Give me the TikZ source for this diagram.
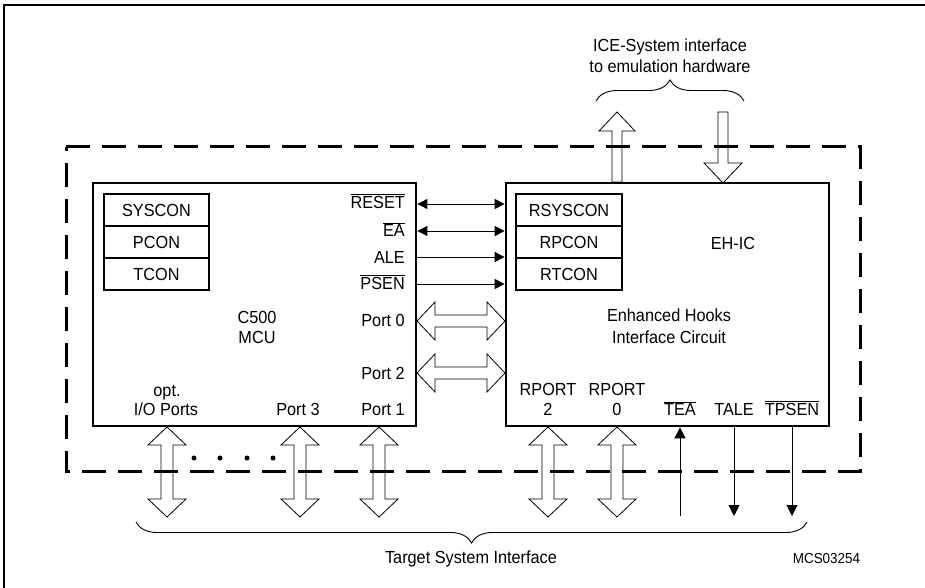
\documentclass[tikz,border=0pt]{standalone}
\usepackage{fontspec}
\setmainfont[FakeStretch=0.93]{Liberation Sans}
\usetikzlibrary{arrows.meta,decorations.pathreplacing}
\newcommand\ovl[1]{$\overline{\mbox{#1}}$}
\newcommand\dblV[3]{% x, ytop, ybot
  \draw[hollow] (#1,#2) -- ({#1+19},{#2+18}) -- ({#1+6},{#2+18}) -- ({#1+6},{#3-18}) -- ({#1+19},{#3-18}) -- (#1,#3)
    -- ({#1-19},{#3-18}) -- ({#1-6},{#3-18}) -- ({#1-6},{#2+18}) -- ({#1-19},{#2+18}) -- cycle;}
\newcommand\dblH[3]{% y, xleft, xright
  \draw[hollow] (#2,#1) -- ({#2+18},{#1-19}) -- ({#2+18},{#1-6}) -- ({#3-18},{#1-6}) -- ({#3-18},{#1-19}) -- (#3,#1)
    -- ({#3-18},{#1+19}) -- ({#3-18},{#1+6}) -- ({#2+18},{#1+6}) -- ({#2+18},{#1+19}) -- cycle;}
\begin{document}
\begin{tikzpicture}[x=1pt,y=-1pt,
  txt/.style={inner sep=0pt,font=\fontsize{17.5}{20}\selectfont,text height=12.5pt,text depth=0pt},
  small/.style={inner sep=0pt,font=\fontsize{14.5}{17}\selectfont,text height=10.4pt,text depth=0pt},
  chip/.style={draw,line width=2.8pt,inner sep=0pt},
  reg/.style={draw,line width=2.2pt,inner sep=0pt,minimum width=105pt,minimum height=32pt,
              font=\fontsize{17.5}{20}\selectfont,text height=12.5pt,text depth=0pt},
  hollow/.style={draw,line width=0.8pt},
  sig/.style={line width=0.9pt},
  tip/.style={Triangle[length=10pt,width=10pt]},
  dashbox/.style={line width=3pt,dash pattern=on 24pt off 12pt},
  frame/.style={line width=1.4pt},
  brc/.style={line width=0.9pt,decorate,decoration={brace,amplitude=21pt}}]
\useasboundingbox (0,0) rectangle (925,588);
\draw[frame] (4,588) -- (4,5) -- (925,5);

% chips
\node[chip,minimum width=323pt,minimum height=243pt] (mcu) at (254.5,304.5) {};
\node[chip,minimum width=323pt,minimum height=243pt] (ehic) at (667.5,304.5) {};

% registers
\node[reg] (syscon) at (156.5,210) {SYSCON};
\node[reg] (pcon) at (156.5,242) {PCON};
\node[reg] (tcon) at (156.5,274) {TCON};
\node[reg,minimum width=106pt] (rsyscon) at (569,210) {RSYSCON};
\node[reg,minimum width=106pt] (rpcon) at (569,242) {RPCON};
\node[reg,minimum width=106pt] (rtcon) at (569,274) {RTCON};

% MCU labels
\node[txt,anchor=east] (lreset) at (405,202) {\ovl{RESET}};
\node[txt,anchor=east] (lea) at (405,230) {\ovl{EA}};
\node[txt,anchor=east] (lale) at (405,257) {ALE};
\node[txt,anchor=east] (lpsen) at (405,283) {\ovl{PSEN}};
\node[txt,anchor=east] (lp0) at (405,320) {Port 0};
\node[txt,anchor=east] (lp2) at (405,373) {Port 2};
\node[txt,anchor=east] (lp1) at (405,409) {Port 1};
\node[txt] (lp3) at (298,409) {Port 3};
\node[txt] (lopt) at (167,390) {opt.};
\node[txt] (lio) at (166,409) {I/O Ports};
\node[txt] (lc500) at (257,317) {C500};
\node[txt] (lmcu) at (257,337) {MCU};

% EH-IC labels
\node[txt] (lehic) at (733,243) {EH-IC};
\node[txt] (lenh) at (669,315) {Enhanced Hooks};
\node[txt] (lifc) at (669,337) {Interface Circuit};
\node[txt] (lrp2a) at (548,389) {RPORT};
\node[txt] (lrp2b) at (548,409) {2};
\node[txt] (lrp0a) at (617,389) {RPORT};
\node[txt] (lrp0b) at (617,409) {0};
\node[txt] (ltea) at (680,409) {\ovl{TEA}};
\node[txt] (ltale) at (734,409) {TALE};
\node[txt] (ltpsen) at (792,409) {\ovl{TPSEN}};

% signal rows
\foreach \n/\y in {r1/204,r2/231,r3/257,r4/284}{\coordinate (\n) at (0,\y);}
\draw[sig,{Triangle[length=10pt,width=10pt]}-{Triangle[length=10pt,width=10pt]}] (mcu.east |- r1) -- (ehic.west |- r1);
\draw[sig,{Triangle[length=10pt,width=10pt]}-{Triangle[length=10pt,width=10pt]}] (mcu.east |- r2) -- (ehic.west |- r2);
\draw[sig,-{Triangle[length=10pt,width=10pt]}] (mcu.east |- r3) -- (ehic.west |- r3);
\draw[sig,-{Triangle[length=10pt,width=10pt]}] (mcu.east |- r4) -- (ehic.west |- r4);

% port buses between chips
\dblH{321}{417}{505}
\dblH{373}{417}{505}

% bottom buses
\dblV{167}{427}{517}
\dblV{300}{427}{517}
\dblV{379}{427}{517}
\dblV{548}{427}{517}
\dblV{617}{427}{517}

% single lines
\coordinate (teab) at (680,516);
\coordinate (taleb) at (734,516);
\coordinate (tpsenb) at (792,516);
\draw[sig,-{Triangle[length=11pt,width=11pt]}] (teab) -- (ehic.south -| teab);
\draw[sig,-{Triangle[length=11pt,width=11pt]}] (ehic.south -| taleb) -- (taleb);
\draw[sig,-{Triangle[length=11pt,width=11pt]}] (ehic.south -| tpsenb) -- (tpsenb);

% dots
\foreach \x in {194,220,247,273}{\fill (\x,458) circle (2.5pt);}

% ICE arrows
\draw[hollow] (617,112) -- (635,131) -- (622,131) -- (622,182) -- (612,182) -- (612,131) -- (599,131) -- cycle;
\draw[hollow] (723,183) -- (742,163) -- (728,163) -- (728,112) -- (718,112) -- (718,163) -- (704,163) -- cycle;

% dashed boundary
\draw[dashbox] (66,147) -- (860,147) -- (860,471) -- (66,471) -- cycle;

% braces
\coordinate (tbl) at (596,101);
\coordinate (tbr) at (744,101);
\draw[brc] (tbl) -- (tbr);
\coordinate (bbl) at (136,522);
\coordinate (bbr) at (807,522);
\draw[brc,decoration={mirror}] (bbl) -- (bbr);

\node[txt] (ice1) at (670,45) {ICE-System interface};
\node[txt] (ice2) at (670,66) {to emulation hardware};
\node[txt] (tsi) at (471,557) {Target System Interface};
\node[small] (code) at (826.5,558) {MCS03254};
\end{tikzpicture}
\end{document}
